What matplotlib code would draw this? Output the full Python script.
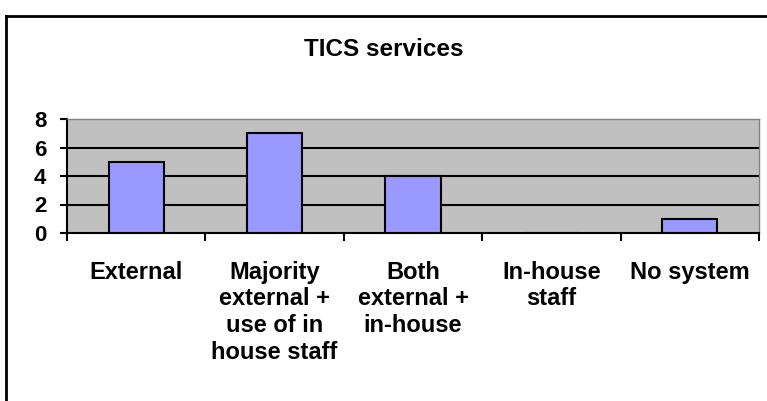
import numpy as np
import matplotlib.pyplot as plt
from matplotlib.lines import Line2D

# =========================
# Data
# =========================
categories = ["External",
              "Majority\nexternal +\nuse of in\nhouse staff",
              "Both\nexternal +\nin-house",
              "In-house\nstaff",
              "No system"]
counts = [5, 7, 4, 0, 1]
y_ticks = [0, 2, 4, 6, 8]

plt.rcParams["font.family"] = ["Liberation Sans", "DejaVu Sans"]
plt.rcParams["font.weight"] = "bold"

W, H = 767, 401
fig = plt.figure(figsize=(W / 100, H / 100), dpi=100)
fig.patch.set_facecolor("white")

# chart area border (Excel style, only top + left visible)
fig.add_artist(Line2D([6 / W, 1.0], [1 - 16 / H, 1 - 16 / H], color="black", lw=2))
fig.add_artist(Line2D([6 / W, 6 / W], [0.0, 1 - 16 / H], color="black", lw=2))

# plot area
ax = fig.add_axes([67 / W, (H - 233) / H, 692 / W, 114 / H])
ax.set_facecolor("#C0C0C0")

x = np.arange(len(categories))
ax.bar(x, counts, width=0.4, color="#9999FF", edgecolor="black", linewidth=1.5, zorder=3)

ax.set_xlim(-0.5, len(categories) - 0.5)
ax.set_ylim(0, 8)
ax.set_yticks(y_ticks)
ax.set_yticklabels([str(v) for v in y_ticks], fontsize=16, fontweight="bold")

# gridlines
for v in y_ticks[1:-1]:
    ax.axhline(v, color="black", lw=1.5, zorder=1)

# x ticks: labels at centers, tick marks at boundaries
ax.set_xticks(x)
ax.set_xticklabels(categories, fontsize=17, fontweight="bold", linespacing=1.2)
ax.set_xticks(np.arange(-0.5, len(categories)), minor=True)
ax.tick_params(axis="x", which="major", length=0, pad=20)
ax.tick_params(axis="x", which="minor", length=6, width=1.5, direction="out")
ax.tick_params(axis="y", length=5, width=1.5, direction="out", pad=10)

for side in ["top", "right"]:
    ax.spines[side].set_color("#808080")
    ax.spines[side].set_linewidth(1)
for side in ["left", "bottom"]:
    ax.spines[side].set_color("black")
    ax.spines[side].set_linewidth(1.5)

fig.text(384 / W, 1 - 50 / H, "TICS services", ha="center", va="center",
         fontsize=17.5, fontweight="bold")

fig.savefig("out.png", dpi=100)
